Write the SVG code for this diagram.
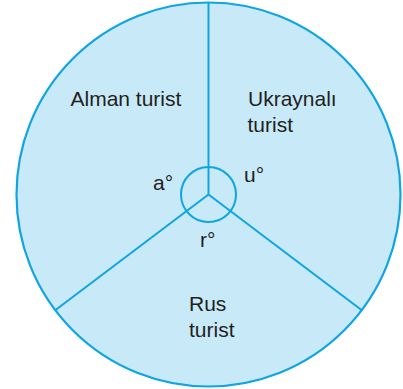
<svg xmlns="http://www.w3.org/2000/svg" width="403" height="389" viewBox="0 0 403 389">
<style>
.ln{stroke:#0ea5e2;stroke-width:2;fill:none}
.t{font-family:"Liberation Sans",Arial,sans-serif;font-size:21px;fill:#231f20}
</style>
<rect width="403" height="389" fill="#fff"/>
<g id="pie">
<circle cx="208.5" cy="194.5" r="192" fill="#c8e9f8" stroke="#0ea5e2" stroke-width="2.2"/>
</g>
<g id="connectors">
<line class="ln" x1="208.5" y1="194.5" x2="208.5" y2="2.5"/>
<line class="ln" x1="208.5" y1="194.5" x2="55.5" y2="310"/>
<line class="ln" x1="208.5" y1="194.5" x2="361.5" y2="310"/>
<circle class="ln" cx="208.5" cy="194.5" r="27.5"/>
</g>
<g id="alman"><text class="t" x="70.5" y="106">Alman turist</text></g>
<g id="ukraynali"><text class="t" x="248" y="106">Ukraynalı</text><text class="t" x="247.5" y="132">turist</text></g>
<g id="rus"><text class="t" x="189" y="311">Rus</text><text class="t" x="189" y="337">turist</text></g>
<g id="angles">
<text class="t" x="153" y="190">a°</text>
<text class="t" x="244" y="182">u°</text>
<text class="t" x="200" y="247">r°</text>
</g>
</svg>
